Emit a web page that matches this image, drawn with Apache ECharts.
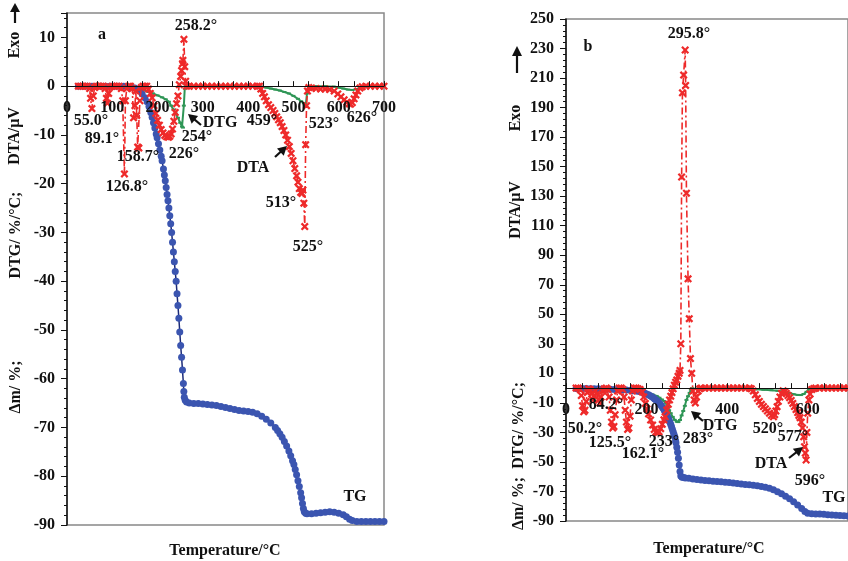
<!DOCTYPE html>
<html>
<head>
    <meta charset="utf-8">
    <title>TG DTG DTA</title>
    <script src="https://cdn.jsdelivr.net/npm/echarts@6/dist/echarts.min.js"></script>
    <style type="text/css">
        body{margin:0;background:#fff;}
        #main{width:848px;height:561px;}
    </style>
</head>
<body>
    <div id="main"></div>
    <script type="text/javascript">
        // ---- panel a : [temperature, value] ----
        const tgA = [[25,0],[35,0],[45,0],[55,0],[65,0],[75,0],[85,0],[95,0],[105,0],[115,0],[125,0],[135,-0.1],
            [142,-0.2],[150,-0.4],[160,-0.9],[166,-1.6],[172,-2.4],[177,-3.2],[181,-4.2],[185,-5.4],[188,-6.4],[191,-7.5],
            [194,-8.6],[197,-9.8],[199,-10.6],[202,-11.8],[205,-13.1],[208,-14.4],[210,-15.3],[213,-17],[215,-18.2],
            [217,-19.4],[219,-20.8],[221,-22.2],[223,-23.5],[225,-25],[227,-26.6],[229,-28.2],[231,-30],[233,-32],
            [235,-34],[237,-36],[239,-38],[241,-40],[243,-42.6],[245,-45],[247,-47.6],[249,-50.4],[251,-53.2],
            [253,-55.6],[255,-58.2],[257,-61],[258,-62.6],[259,-63.8],[261,-64.4],[264,-64.8],[270,-65],[280,-65.1],
            [290,-65.1],[300,-65.2],[310,-65.3],[320,-65.4],[330,-65.5],[340,-65.7],[350,-65.9],[360,-66.1],[370,-66.3],
            [380,-66.5],[390,-66.6],[400,-66.7],[410,-66.9],[420,-67.2],[430,-67.7],[440,-68.3],[450,-69.1],[460,-70],
            [465,-70.6],[470,-71.3],[475,-72],[480,-72.9],[485,-73.8],[490,-74.8],[494,-75.8],[498,-76.8],[501,-77.6],
            [504,-78.6],[507,-79.7],[510,-80.9],[513,-82.1],[516,-83.4],[518,-84.4],[520,-85.6],[522,-86.6],[524,-87.3],
            [527,-87.6],[530,-87.7],[540,-87.7],[550,-87.6],[560,-87.5],[570,-87.4],[580,-87.3],[590,-87.4],[600,-87.6],
            [610,-87.9],[617,-88.3],[624,-88.8],[630,-89.1],[640,-89.3],[650,-89.3],[660,-89.3],[670,-89.3],[680,-89.3],
            [690,-89.3],[700,-89.3]];
        const dtgA = [[25,0],[40,0],[60,0],[80,0],[100,0],[120,0],[140,0],[150,-0.2],[160,-0.5],[170,-0.8],[180,-1.2],
            [190,-1.5],[200,-1.9],[210,-2.3],[218,-2.7],[225,-3.2],[230,-4],[235,-4.8],[240,-5.6],[245,-6.5],[250,-7.5],
            [254,-8.3],[256,-8.5],[258,-4],[260,-0.5],[262,0],[280,0],[300,0],[320,0],[340,0],[360,0],[380,0],[400,0],
            [420,0],[430,-0.1],[440,-0.3],[450,-0.5],[460,-0.7],[470,-0.9],[480,-1.2],[490,-1.5],[500,-2],[510,-2.6],
            [517,-3.1],[523,-3.5],[527,-4],[530,-1.5],[533,0],[550,0],[570,0],[590,-0.1],[600,-0.3],[610,-0.5],
            [620,-0.7],[630,-0.8],[640,-0.6],[650,-0.3],[660,0],[680,0],[700,0]];
        const dtaA = [[25,0],[30,0],[35,0],[40,0],[45,0],[50,-0.5],[52,-2.5],[55,-4.6],[58,-2],[61,-0.3],[65,0],[70,0],
            [75,0],[80,0],[84,-0.5],[87,-2.5],[89.1,-3.5],[92,-1.5],[95,-0.2],[100,0],[105,0],[110,0],[115,0],[120,-0.5],
            [123,-3],[126.8,-18],[129,-3],[132,-0.5],[136,0],[140,0],[144,-0.5],[147,-6.5],[150,-4],[152,-1],[154,-6],
            [156,-12.5],[158.7,-12.7],[161,-3],[164,-0.3],[168,0],[172,0],[176,0],[180,-0.6],[184,-1.5],[188,-2.4],
            [192,-4],[196,-5.6],[200,-7],[204,-8],[208,-8.9],[212,-9.6],[216,-10.1],[220,-10.4],[224,-10.5],[227,-10.3],
            [230,-9.8],[233,-8.8],[236,-7.2],[239,-5.4],[242,-3.6],[245,-2],[248,0.3],[251,2],[253,3.2],[255,4.6],
            [256,5.3],[258.2,9.6],[260,4],[262,1],[264,0],[270,0],[280,0],[290,0],[300,0],[310,0],[320,0],[330,0],
            [340,0],[350,0],[360,0],[370,0],[380,0],[390,0],[400,0],[410,0],[420,0],[425,0],[428,-0.6],[432,-1.5],
            [436,-2.2],[440,-3],[445,-3.8],[450,-4.4],[455,-5],[459,-5.6],[463,-6.3],[467,-6.9],[471,-7.5],[475,-8.3],
            [479,-9.1],[483,-10],[487,-11.1],[491,-12.4],[495,-13.8],[499,-15.3],[503,-16.9],[507,-18.4],[510,-19.7],
            [513,-21],[516,-21.8],[519,-22],[521,-21.3],[523,-24],[525,-28.8],[527,-12],[529,-4],[531,-1],[534,-0.3],
            [540,-0.4],[550,-0.5],[560,-0.6],[570,-0.6],[580,-0.7],[590,-1],[598,-1.6],[605,-2.2],[612,-2.8],[618,-3.3],
            [623,-3.6],[626,-3.7],[630,-3.4],[634,-2.6],[638,-1.8],[642,-1],[647,-0.4],[652,-0.1],[660,0],[670,0],
            [680,0],[690,0],[700,0]];

        // ---- panel b ----
        const tgB = [[25,-0.2],[40,-0.3],[50,-0.3],[60,-0.4],[70,-0.4],[80,-0.5],[90,-0.6],[100,-0.7],[110,-0.8],
            [120,-0.9],[130,-1],[140,-1.2],[150,-1.3],[160,-1.5],[168,-1.7],[175,-1.9],[180,-2.2],[185,-2.5],[190,-2.9],
            [195,-3.3],[200,-3.9],[205,-4.5],[209,-5.2],[213,-5.9],[217,-6.6],[220,-7.3],[223,-7.9],[226,-8.6],
            [229,-9.4],[231,-10],[234,-11],[236,-11.8],[239,-12.8],[241,-13.6],[244,-15],[246,-16],[248,-17.1],
            [250,-18.3],[252,-19.4],[254,-20.5],[256,-21.8],[258,-23.2],[260,-24.7],[262,-26.2],[264,-27.9],[266,-29.6],
            [268,-31.3],[270,-33],[272,-35.6],[273,-37],[275,-40],[277,-43.5],[279,-47.5],[281,-52],[283,-56.5],
            [285,-59.5],[288,-60.3],[292,-60.6],[296,-60.8],[305,-61.1],[315,-61.5],[325,-61.9],[335,-62.2],[345,-62.5],
            [355,-62.8],[365,-63],[375,-63.2],[385,-63.4],[395,-63.7],[405,-64],[415,-64.3],[425,-64.6],[435,-64.9],
            [445,-65.2],[455,-65.5],[465,-65.8],[475,-66.2],[485,-66.7],[495,-67.2],[505,-67.9],[515,-68.9],[525,-70.2],
            [535,-71.6],[545,-73.2],[555,-75],[565,-77],[575,-79.2],[585,-81.6],[593,-83.6],[600,-84.7],[610,-85.1],
            [620,-85.2],[630,-85.3],[640,-85.5],[650,-85.7],[660,-85.9],[670,-86.1],[680,-86.3],[690,-86.5],[700,-86.6]];
        const dtgB = [[25,0],[50,0],[75,0],[100,0],[125,0],[150,-0.5],[165,-1.2],[175,-2.2],[185,-2.8],[195,-3.3],
            [205,-3.7],[215,-4.3],[225,-5.3],[232,-6.5],[238,-7.7],[244,-8.8],[248,-10],[252,-12.5],[256,-15],
            [260,-17],[265,-19.5],[270,-21.5],[275,-22.8],[279,-23],[283,-21.6],[287,-18.5],[291,-15.5],[295,-12],
            [299,-8],[303,-5.5],[307,-3.2],[310,-1],[313,0],[330,0],[350,0],[370,0],[390,0],[410,0],[430,0],
            [450,-0.4],[470,-0.8],[490,-1.1],[510,-1.4],[525,-1.8],[540,-2.3],[555,-3.3],[565,-4.1],[575,-4.6],
            [583,-4.7],[590,-4],[597,-2.5],[603,-0.8],[610,0],[630,0],[660,0],[700,0]];
        const dtaB = [[25,0],[30,0],[35,-1],[38,-5],[41,-12],[44,-16],[47,-15],[50.2,-9],[53,-3],[56,-0.5],[60,-1],
            [64,-4],[67,-8],[70,-5],[73,-2],[77,-4],[81,-8],[84.2,-10],[87,-6],[91,-2],[95,-0.5],[100,0],[104,-1],
            [107,-6],[110,-15],[113,-23],[116,-27],[119,-26],[122,-18],[125.5,-8],[128,-2],[132,0],[137,0],[141,-1],
            [144,-6],[147,-15],[150,-23],[153,-28],[156,-27],[159,-19],[162.1,-8],[165,-2],[169,0],[174,0],[179,-0.5],
            [184,-1],[189,-2.5],[193,-6],[197,-10.4],[201,-14],[205,-17.5],[210,-21.6],[215,-25],[219,-28],[223,-29.8],
            [227,-30.3],[231,-29.6],[235,-27.5],[239,-24.5],[243,-21.5],[246,-19.4],[250,-15],[254,-11],[257,-8],
            [260,-5.5],[263,-3],[266,-0.5],[269,2],[272,4],[275,5.5],[278,8],[281,10],[283,12],[285,30],[287,143],
            [289,200],[292,212],[295.8,229],[297,205],[299,132],[303,74],[306,47],[309,20],[312,10],[315,-2],[318,-8],
            [321,-10],[324,-6],[328,-2],[332,-0.5],[336,0],[345,0],[355,0],[365,0],[375,0],[385,0],[395,0],[405,0],
            [415,0],[425,0],[435,0],[445,0],[455,0],[460,-0.5],[465,-2],[470,-4.5],[475,-7],[480,-9],[485,-11],
            [490,-12.5],[495,-14],[500,-15.5],[505,-17],[510,-18.5],[515,-19.4],[518,-18],[521,-15.5],[524,-12.6],
            [527,-9],[531,-6],[535,-3.5],[539,-1.8],[543,-2.5],[547,-3.6],[551,-5],[555,-6.5],[559,-8.4],[563,-10.4],
            [567,-12.5],[571,-14.5],[575,-16.5],[578,-18.5],[581,-20],[584,-23],[587,-27],[590,-33],[592,-39.7],
            [594,-44],[596,-48.7],[598,-30],[600,-17],[603,-8],[606,-4],[610,-1],[615,-0.3],[620,0],[630,0],[640,0],
            [650,0],[660,0],[670,0],[680,0],[690,0],[700,0]];

        const serif = '"Liberation Serif", "Times New Roman", serif';
        const red = '#ee2a2a', green = '#2f9656', blue = '#3b55b0', navy = '#1b2a78';
        // 星形标记
        const starMark = 'path://M2,0L5,3L8,0L10,2L7,5L10,8L8,10L5,7L2,10L0,8L3,5L0,2Z';

        // 两个面板: 网格位置与纵轴范围
        const grids = [
            {left:67, top:13, width:317, height:512},
            {left:566, top:19, width:287, height:502}
        ];
        const yRange = [[-90, 15, 10], [-90, 250, 20]];

        function txt(s, x, y, rot, size){
            return {type:'text', x:x, y:y, rotation: rot || 0, z:50,
                style:{text:s, font:'bold ' + (size || 16) + 'px ' + serif, fill:'#111', align:'center', verticalAlign:'middle'}};
        }
        // 箭头: 从 (x1,y1) 指向 (x2,y2)
        function arrow(x1, y1, x2, y2, L, W){
            L = L || 9; W = W || 5;
            let dx = x2 - x1, dy = y2 - y1, len = Math.sqrt(dx*dx + dy*dy);
            dx /= len; dy /= len;
            let bx = x2 - dx*L, by = y2 - dy*L;
            return [
                {type:'line', z:50, shape:{x1:x1, y1:y1, x2:x2 - dx*L*0.5, y2:y2 - dy*L*0.5}, style:{stroke:'#111', lineWidth:2.2}},
                {type:'polygon', z:50, shape:{points:[[x2,y2],[bx - dy*W, by + dx*W],[bx + dy*W, by - dx*W]]}, style:{fill:'#111'}}
            ];
        }

        function xAx(idx, interval, minorSplit){
            // 横轴放在 y=0 处 (onZero 不生效, 用 offset 上移)
            let r = yRange[idx];
            let off = -grids[idx].height * (0 - r[0]) / (r[1] - r[0]);
            return {
                type:'value', gridIndex:idx, min:0, max:700, interval:interval, position:'bottom', offset:off, z:10,
                axisLine:{show:true, onZero:false, lineStyle:{color:'#111', width:1}},
                axisTick:{inside:true, length:5, lineStyle:{color:'#111'}},
                minorTick:{show:true, splitNumber:minorSplit, length:5, lineStyle:{color:'#111'}},
                axisLabel:{margin:14, color:'#111', fontFamily:serif, fontWeight:'bold', fontSize:16, showMaxLabel: idx === 0},
                splitLine:{show:false}
            };
        }
        function yAx(idx){
            let r = yRange[idx];
            return {
                type:'value', gridIndex:idx, min:r[0], max:r[1], interval:r[2],
                axisLine:{show:true, onZero:false, lineStyle:{color:'#111', width:1.5}},
                axisTick:{show:true, length:6, lineStyle:{color:'#111'}},
                minorTick:{show:true, splitNumber:5, length:3, lineStyle:{color:'#111'}},
                axisLabel:{margin:12, color:'#111', fontFamily:serif, fontWeight:'bold', fontSize:16, showMaxLabel: idx === 1},
                splitLine:{show:false}
            };
        }
        function tgSeries(idx, data){
            return {type:'line', xAxisIndex:idx, yAxisIndex:idx, data:data, symbol:'circle', symbolSize:7,
                itemStyle:{color:blue}, lineStyle:{color:navy, width:1.5}, z:3};
        }
        function dtgSeries(idx, data){
            return {type:'line', xAxisIndex:idx, yAxisIndex:idx, data:data, symbol:'rect', symbolSize:[4,2],
                itemStyle:{color:green}, lineStyle:{color:green, width:2}, z:2};
        }
        function dtaSeries(idx, data){
            return {type:'line', xAxisIndex:idx, yAxisIndex:idx, data:data, symbol:starMark, symbolSize:8,
                itemStyle:{color:red}, lineStyle:{color:red, width:1.6, type:[7,3,2,3]}, z:4};
        }

        var myChart = echarts.init(document.getElementById('main'));
        var option = {
            animation:false,
            backgroundColor:'#fff',
            grid:grids.map(g => Object.assign({show:true, borderColor:'#888', borderWidth:1.5}, g)),
            xAxis:[xAx(0, 100, 3), xAx(1, 200, 5)],
            yAxis:[yAx(0), yAx(1)],
            series:[
                dtgSeries(0, dtgA), tgSeries(0, tgA), dtaSeries(0, dtaA),
                dtgSeries(1, dtgB), tgSeries(1, tgB), dtaSeries(1, dtaB)
            ],
            graphic:[].concat(
                // panel a
                [txt('a', 102, 35), txt('258.2°', 196, 26), txt('55.0°', 91, 121), txt('89.1°', 102, 139),
                 txt('158.7°', 138, 157), txt('126.8°', 127, 187), txt('226°', 184, 154), txt('254°', 197, 137),
                 txt('DTG', 220, 123), txt('459°', 262, 121), txt('523°', 324, 124), txt('626°', 362, 118),
                 txt('DTA', 253, 168), txt('513°', 281, 203), txt('525°', 308, 247), txt('TG', 355, 497),
                 txt('Temperature/°C', 225, 551),
                 txt('Δm/ %;', 16, 387, Math.PI/2), txt('DTG/ %/°C;', 16, 235, Math.PI/2),
                 txt('DTA/μV', 15, 136, Math.PI/2), txt('Exo', 15, 45, Math.PI/2)],
                arrow(15, 23, 15, 3, 9, 5), arrow(201, 125, 188, 114), arrow(275, 157, 287, 146),
                // panel b
                [txt('b', 588, 47), txt('295.8°', 689, 34), txt('50.2°', 585, 429), txt('84.2°', 606, 405),
                 txt('125.5°', 610, 443), txt('162.1°', 643, 454), txt('233°', 664, 442), txt('283°', 698, 439),
                 txt('DTG', 720, 426), txt('520°', 768, 429), txt('577°', 793, 437), txt('DTA', 771, 464),
                 txt('596°', 810, 481), txt('TG', 834, 498), txt('Temperature/°C', 709, 549),
                 txt('Δm/ %;  DTG/ %/°C;', 519, 456, Math.PI/2), txt('DTA/μV', 516, 210, Math.PI/2),
                 txt('Exo', 516, 118, Math.PI/2)],
                arrow(517, 73, 517, 46, 10, 5), arrow(703, 421, 691, 411), arrow(789, 458, 803, 447)
            )
        };
        myChart.setOption(option);
    </script>
</body>
</html>
